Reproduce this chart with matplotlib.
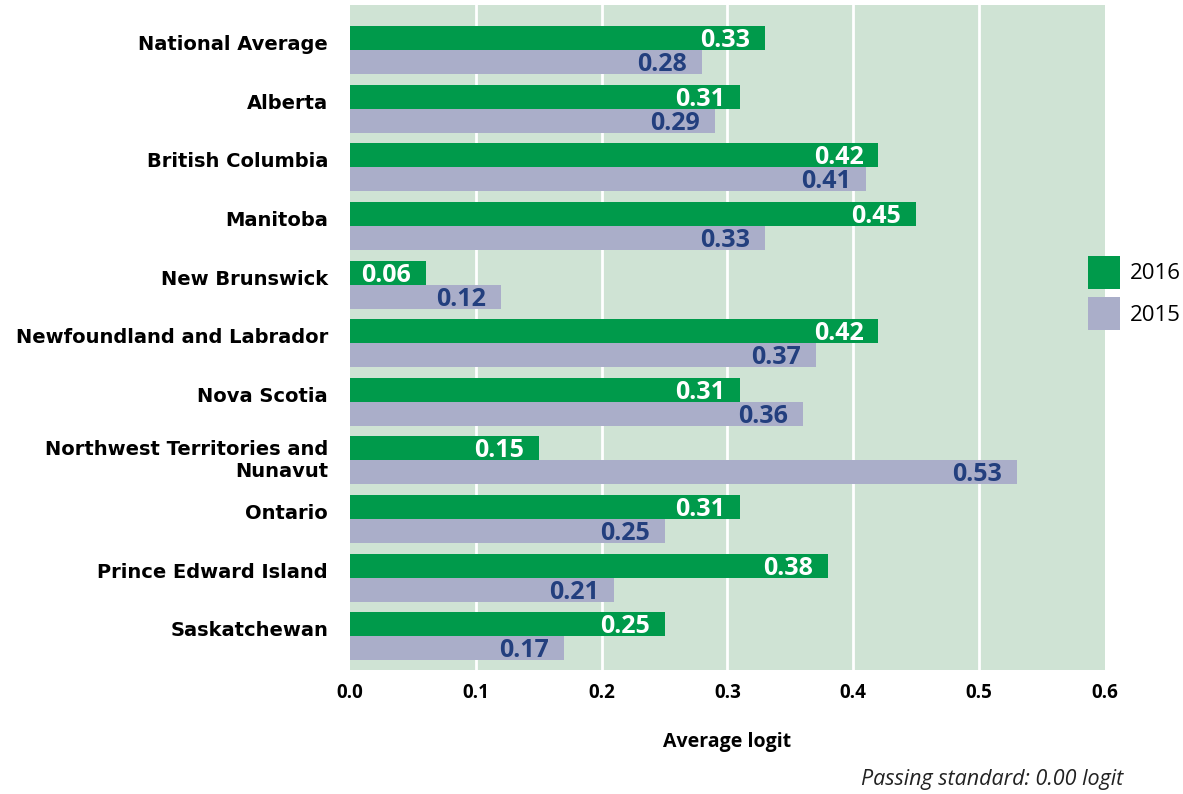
import matplotlib
matplotlib.use("Agg")
import matplotlib.pyplot as plt
import matplotlib.transforms as mtransforms
from matplotlib.patches import Patch
import numpy as np

# Provincial results, average logit
categories = [
    "National Average", "Alberta", "British Columbia", "Manitoba",
    "New Brunswick", "Newfoundland and Labrador", "Nova Scotia",
    "Northwest Territories and\nNunavut", "Ontario",
    "Prince Edward Island", "Saskatchewan",
]
values_2016 = [0.33, 0.31, 0.42, 0.45, 0.06, 0.42, 0.31, 0.15, 0.31, 0.38, 0.25]
values_2015 = [0.28, 0.29, 0.41, 0.33, 0.12, 0.37, 0.36, 0.53, 0.25, 0.21, 0.17]
xticks = [0.0, 0.1, 0.2, 0.3, 0.4, 0.5, 0.6]
xtick_labels = ["0.0", "0.1", "0.2", "0.3", "0.4", "0.5", "0.6"]

GREEN = "#009a4b"
LAVENDER = "#aaaec9"
BG = "#cfe3d4"
NAVY = "#233f7e"

fig = plt.figure(figsize=(11.83, 7.94), dpi=100)
ax = fig.add_axes([0.2959, 0.156, 0.934 - 0.2959, 0.9937 - 0.156])
ax.set_facecolor(BG)

y = np.arange(len(categories))
h = 0.41
ax.barh(y - h / 2, values_2016, height=h, color=GREEN, zorder=3)
ax.barh(y + h / 2, values_2015, height=h, color=LAVENDER, zorder=3)

ax.set_xlim(0, 0.6)
ax.set_ylim(len(categories) - 1 + 0.58, -0.77)

for x in xticks[1:-1]:
    ax.axvline(x, color="white", lw=2, zorder=1)

for spine in ax.spines.values():
    spine.set_visible(False)

# value labels inside the bar ends, digits centred on each bar
pad = mtransforms.offset_copy(ax.transData, fig=fig, x=-15, y=-9, units="dots")
for yi, v in zip(y, values_2016):
    ax.text(v, yi - h / 2, f"{v:.2f}", transform=pad, ha="right", va="baseline",
            color="white", fontsize=18, fontweight="bold", family="Open Sans", zorder=4)
for yi, v in zip(y, values_2015):
    ax.text(v, yi + h / 2, f"{v:.2f}", transform=pad, ha="right", va="baseline",
            color=NAVY, fontsize=18, fontweight="bold", family="Open Sans", zorder=4)

# category labels
ax.set_yticks([])
lab_tr = mtransforms.blended_transform_factory(ax.transAxes, ax.transData)
lab_tr = mtransforms.offset_copy(lab_tr, fig=fig, x=-22, y=0, units="dots")
for yi, name in zip(y, categories):
    va = "center" if "\n" in name else "baseline"
    ax.text(0, yi, name, transform=lab_tr, ha="right", va=va,
            fontsize=14, fontweight="bold", family="DejaVu Sans", color="black",
            linespacing=1.2)

ax.set_xticks(xticks)
ax.set_xticklabels(xtick_labels, fontsize=13.5, fontweight="bold", family="Open Sans")
ax.tick_params(axis="x", length=0, pad=9)
ax.set_xlabel("Average logit", fontsize=14, fontweight="bold", family="Open Sans",
              labelpad=21)

fig.text(1123 / 1183, 1 - 780 / 794, "Passing standard: 0.00 logit", ha="right",
         va="center", fontsize=15.5, style="italic", family="Open Sans", color="#222222")

handles = [Patch(facecolor=GREEN, label="2016"), Patch(facecolor=LAVENDER, label="2015")]
fig.legend(handles=handles, loc="center left", bbox_to_anchor=(1088 / 1183, 1 - 293 / 794),
           frameon=False, handlelength=1.45, handleheight=1.9,
           handletextpad=0.45, labelspacing=0.38, borderpad=0, borderaxespad=0,
           prop={"family": "Open Sans", "size": 16})

fig.savefig("out.png", dpi=100)
